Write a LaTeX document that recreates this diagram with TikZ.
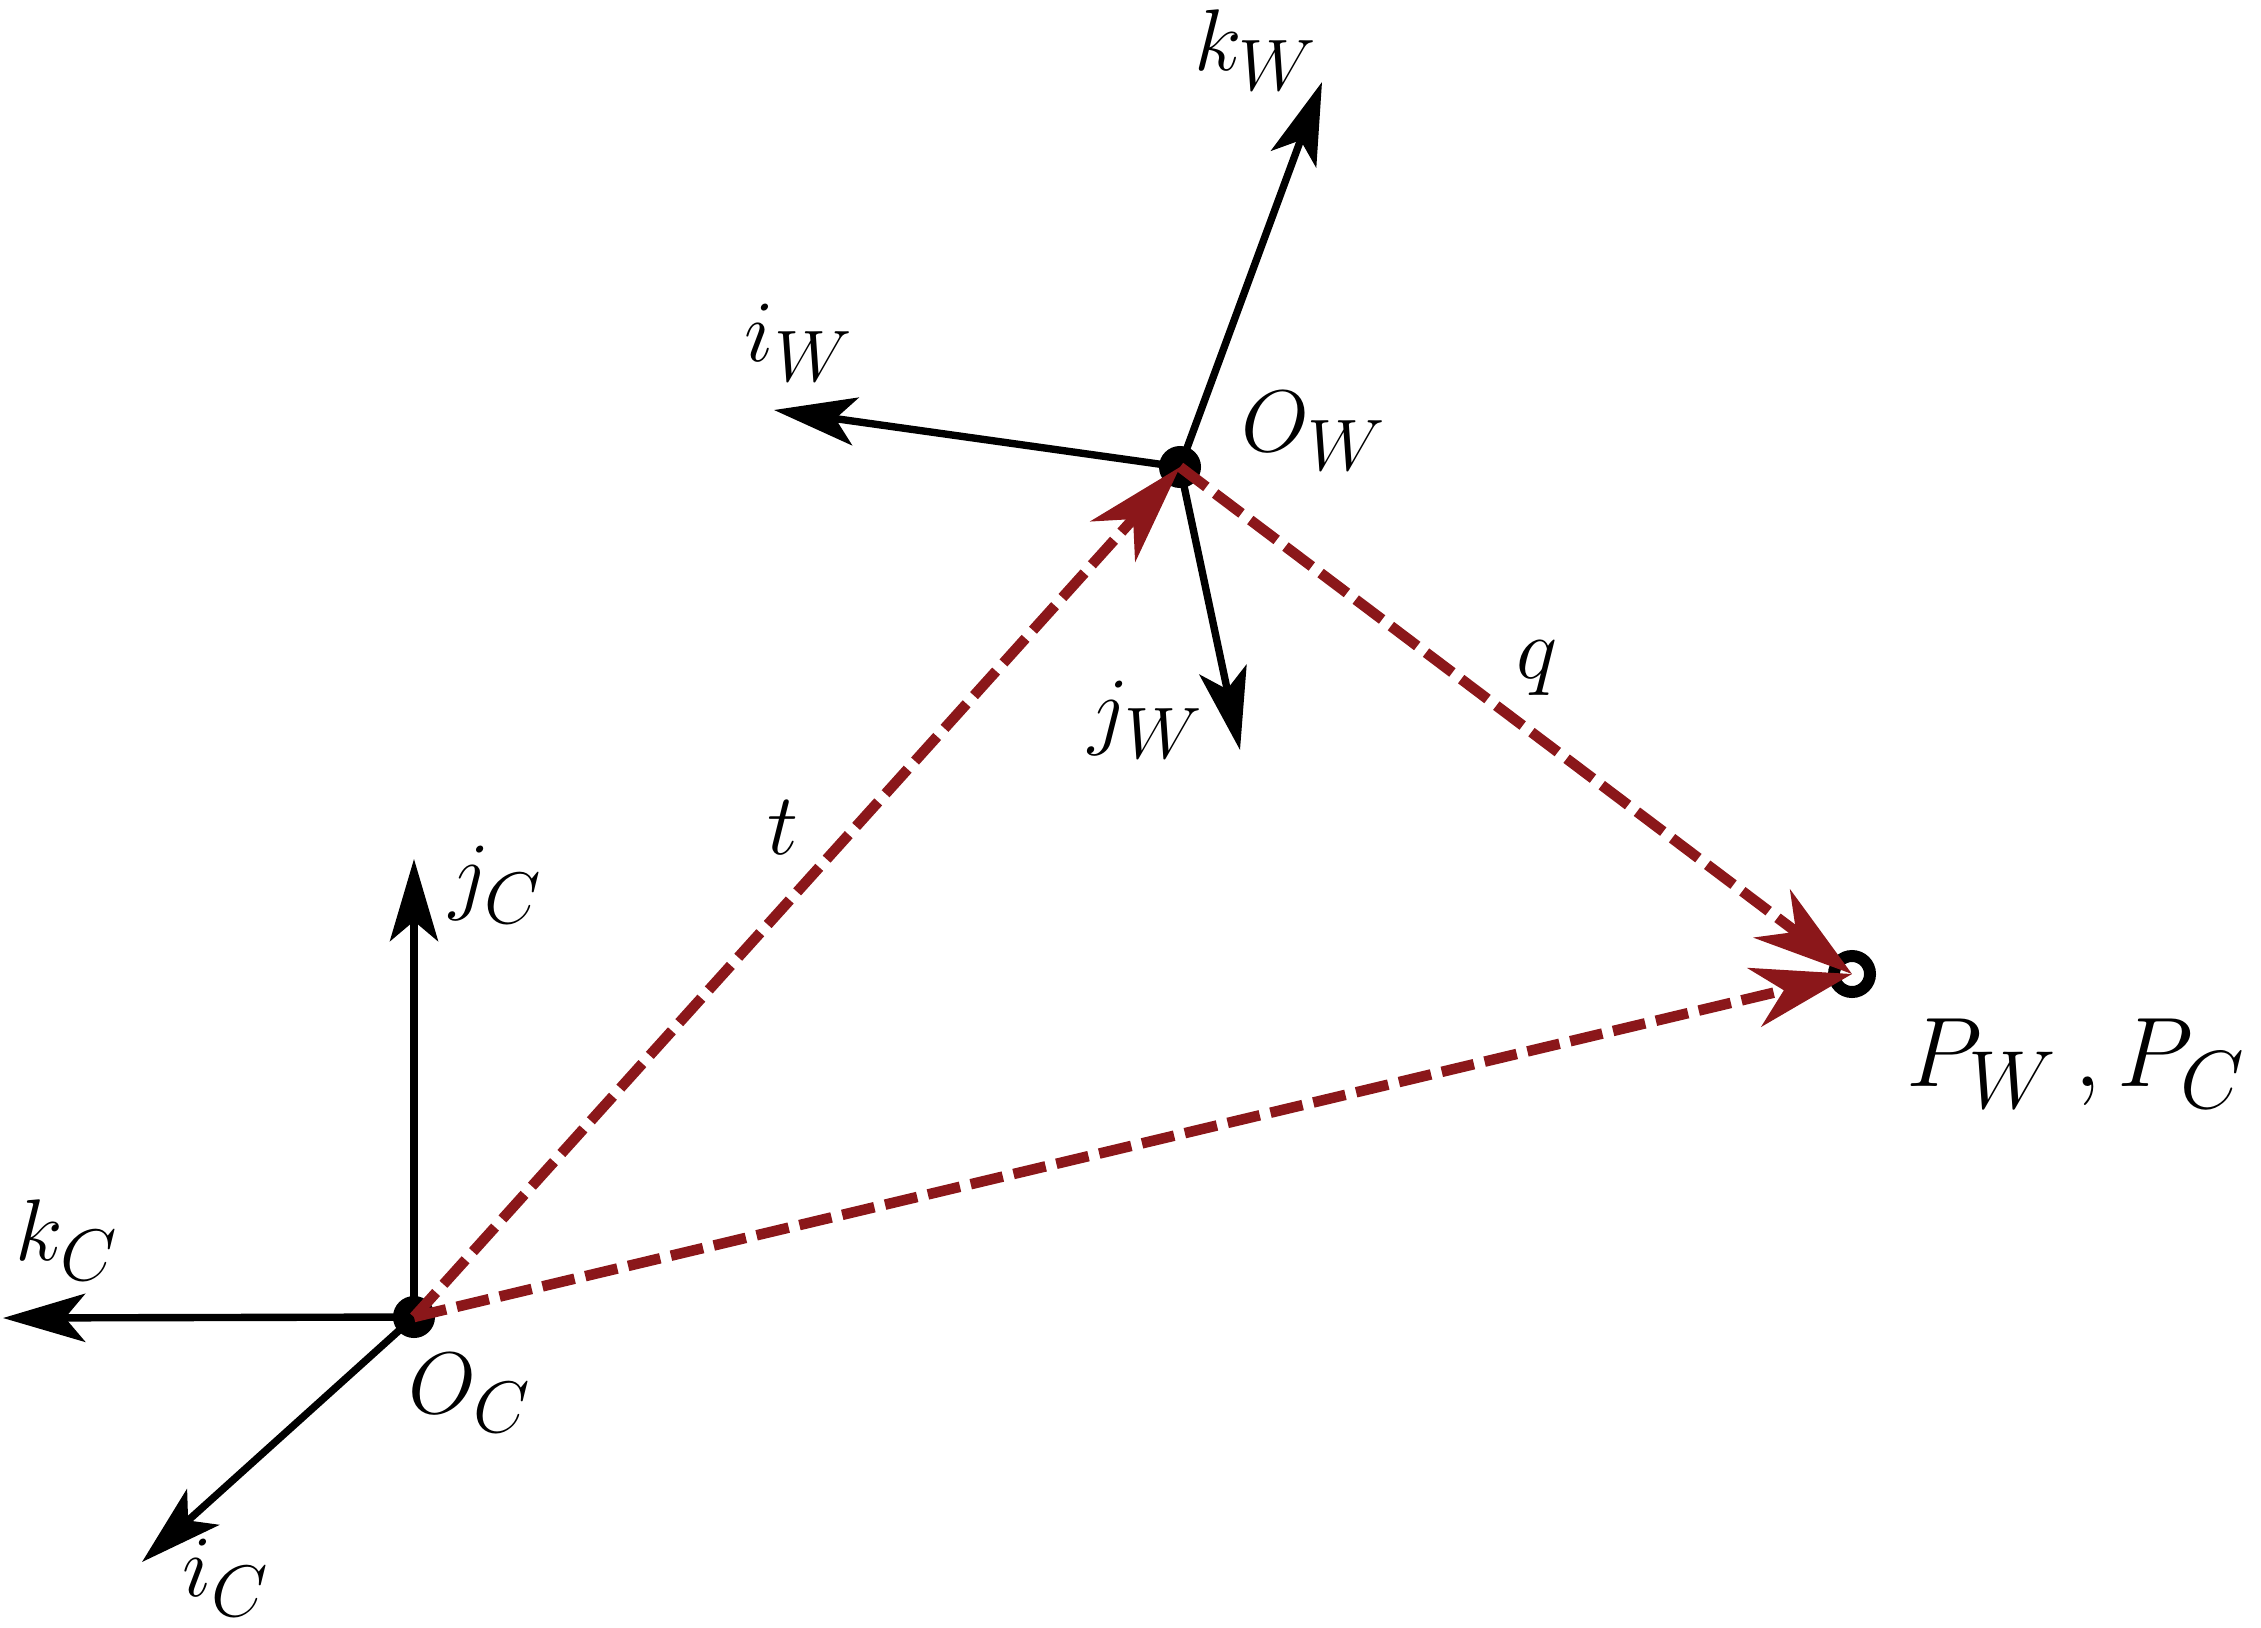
\documentclass[tikz,border=0pt]{standalone}
\usepackage{tikz}
\usetikzlibrary{arrows.meta}
\pgfdeclarelayer{edgelayer}
\pgfdeclarelayer{nodelayer}
\pgfsetlayers{edgelayer,nodelayer,main}
\definecolor{darkred}{RGB}{139,23,26}
\tikzstyle{origin_vertex}=[circle,fill=black,minimum size=0.42cm,inner sep=0pt]
\tikzstyle{open_vertex}=[circle,draw=black,fill=white,line width=3.4pt,minimum size=0.36cm,inner sep=0pt]
\tikzstyle{axis_arrow}=[-{Stealth[length=0.82cm,width=0.48cm,inset=0.2cm]},draw=black,line width=2.1pt]
\tikzstyle{red_vector}=[-{Stealth[length=1.0cm,width=0.6cm,inset=0.3cm]},draw=darkred,line width=3pt,dash pattern=on 0.33cm off 0.11cm]
\tikzstyle{frame_label}=[inner sep=0pt,font=\Huge]
\tikzstyle{point_label}=[inner sep=0pt,font=\Huge]

\begin{document}
\begin{tikzpicture}[x=0.01cm,y=-0.01cm]
	\useasboundingbox (0,0) rectangle (2261,1627);
	\begin{pgfonlayer}{nodelayer}
		\node [style=origin_vertex] (0) at (414, 1317) {};
		\node [style=origin_vertex] (1) at (1180, 467) {};
		\node [style=open_vertex] (2) at (1852, 974) {};
		\node [style=frame_label] (9) at (67, 1240) {$k_C$};
		\node [style=frame_label] (10) at (496, 885) {$j_C$};
		\node [style=frame_label] (11) at (226, 1578) {$i_C$};
		\node [style=frame_label] (12) at (470, 1393) {$O_C$};
		\node [style=frame_label] (13) at (799, 343) {$i_W$};
		\node [style=frame_label] (14) at (1256, 50) {$k_W$};
		\node [style=frame_label] (15) at (1146, 720) {$j_W$};
		\node [style=frame_label] (16) at (1314, 431) {$O_W$};
		\node [style=frame_label] (17) at (783, 828) {$t$};
		\node [style=frame_label] (18) at (1537, 668) {$q$};
		\node [style=point_label] (19) at (2076, 1064) {\scalebox{1.13}{$P_W\,, P_C$}};
	\end{pgfonlayer}
	\coordinate (3) at (3, 1318);
	\coordinate (4) at (414, 859);
	\coordinate (5) at (142, 1562);
	\coordinate (6) at (774, 410);
	\coordinate (7) at (1322, 82);
	\coordinate (8) at (1240, 750);
	\begin{pgfonlayer}{edgelayer}
		\draw [style=axis_arrow] (0.center) to (3);
		\draw [style=axis_arrow] (0.center) to (4);
		\draw [style=axis_arrow] (0.center) to (5);
		\draw [style=axis_arrow] (1.center) to (6);
		\draw [style=axis_arrow] (1.center) to (7);
		\draw [style=axis_arrow] (1.center) to (8);
	\end{pgfonlayer}
	\draw [style=red_vector] (0.center) to (1.center);
	\draw [style=red_vector] (1.center) to (2.center);
	\draw [style=red_vector] (0.center) to (2.center);
\end{tikzpicture}
\end{document}
